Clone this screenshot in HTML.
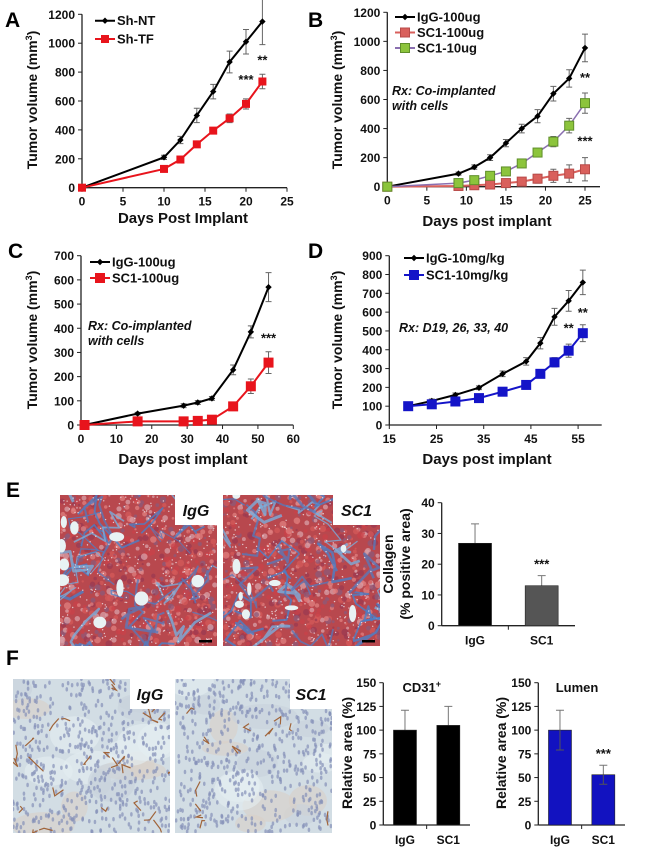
<!DOCTYPE html>
<html><head><meta charset="utf-8">
<style>
html,body{margin:0;padding:0;background:#fff;}
svg{display:block;font-family:"Liberation Sans",Arial,sans-serif;}
.t{font-weight:bold;font-size:12px;fill:#111;}
.at{font-weight:bold;font-size:14px;fill:#111;}
.pl{font-weight:bold;font-size:21px;fill:#000;}
.lg{font-weight:bold;font-size:13px;fill:#111;}
.rx{font-weight:bold;font-style:italic;font-size:12.5px;fill:#111;}
</style></head>
<body>
<svg id="fig" width="650" height="850" viewBox="0 0 650 850">
<defs>
<clipPath id="ce1"><rect x="60" y="495" width="157" height="151"/></clipPath>
<clipPath id="ce2"><rect x="223" y="495" width="157" height="151"/></clipPath>
<clipPath id="cf1"><rect x="13" y="679" width="157" height="154"/></clipPath>
<clipPath id="cf2"><rect x="175" y="679" width="157" height="154"/></clipPath>
</defs>
<text class="pl" x="5" y="27">A</text>
<text class="pl" x="308" y="27">B</text>
<text class="pl" x="8" y="258">C</text>
<text class="pl" x="308" y="258">D</text>
<text class="pl" x="6" y="497">E</text>
<text class="pl" x="6" y="665">F</text>
<g id="photos"></g>
<g id="charts"></g>
</svg>
<script>
// ---------- Panel A data ----------
const aDays=[0,10,12,14,16,18,20,22];
const aNT=[0,210,330,500,665,870,1010,1150];
const aNTerr=[0,15,25,50,50,75,85,160];
const aTF=[0,130,195,300,395,480,580,735];
const aTFerr=[0,10,10,15,20,30,35,50];
const aXTicks=[0,5,10,15,20,25];
const aYTicks=[0,200,400,600,800,1000,1200];
// ---------- Panel B data ----------
const bDays=[0,9,11,13,15,17,19,21,23,25];
const bIgG=[0,90,135,200,300,400,485,640,745,955];
const bIgGerr=[0,10,15,20,25,30,45,50,60,95];
const bSC100=[0,5,10,15,25,35,55,75,90,120];
const bSC100err=[0,5,5,8,10,20,30,45,60,80];
const bSC10=[0,25,45,75,105,160,235,310,420,575];
const bSC10err=[0,5,10,10,12,15,20,35,50,70];
const bXTicks=[0,5,10,15,20,25];
const bYTicks=[0,200,400,600,800,1000,1200];
// ---------- Panel C data ----------
const cDays=[1,16,29,33,37,43,48,53];
const cIgG=[0,47,80,93,110,228,385,570];
const cIgGerr=[0,5,8,8,8,20,25,60];
const cSC1=[0,15,15,17,22,77,160,258];
const cSC1err=[0,5,5,5,5,10,30,45];
const cXTicks=[0,10,20,30,40,50,60];
const cYTicks=[0,100,200,300,400,500,600,700];
// ---------- Panel D data ----------
const dDays=[19,24,29,34,39,44,47,50,53,56];
const dIgG=[100,128,160,198,272,338,435,575,660,758];
const dIgGerr=[0,10,10,10,15,20,30,45,55,65];
const dSC1=[100,110,125,143,177,213,272,333,395,488];
const dSC1err=[0,5,8,8,8,10,20,25,35,45];
const dXTicks=[15,25,35,45,55];
const dYTicks=[0,100,200,300,400,500,600,700,800,900];
// ---------- Bar data ----------
const barCats=['IgG','SC1'];
const eVals=[26.8,13];
const eErr=[6.3,3.3];
const eYTicks=[0,10,20,30,40];
const fCdVals=[100,105];
const fCdErr=[21,20];
const fLuVals=[100,53];
const fLuErr=[21,10];
const fYTicks=[0,25,50,75,100,125,150];

const NS='http://www.w3.org/2000/svg';
const root=document.getElementById('charts');
function mk(tag,attrs,parent){const e=document.createElementNS(NS,tag);for(const k in attrs)e.setAttribute(k,attrs[k]);(parent||root).appendChild(e);return e;}
function txt(s,x,y,cls,anchor,parent){const e=mk('text',{x:x,y:y,class:cls,'text-anchor':anchor||'start'},parent);e.textContent=s;return e;}

function axes(g,c){
  const sx=v=>c.x0+(v-c.xmin)/(c.xmax-c.xmin)*(c.x1-c.x0);
  const sy=v=>c.y0-(v-c.ymin)/(c.ymax-c.ymin)*(c.y0-c.y1);
  const ax=mk('line',{x1:c.x0,y1:c.y0,x2:c.x0,y2:c.y1,stroke:'#222','stroke-width':1.3},g);
  
  
  const bx=mk('line',{x1:c.x0,y1:c.y0,x2:c.x1,y2:c.y0,stroke:'#222','stroke-width':1.3},g);
  
  
  c.yt.forEach(v=>{mk('line',{x1:c.x0-4,x2:c.x0,y1:sy(v),y2:sy(v),stroke:'#222'},g);
    const t=txt(String(v),c.x0-7,sy(v)+4.5,'t','end',g);
    
    });
  if(c.xt){c.xt.forEach(v=>{mk('line',{x1:sx(v),x2:sx(v),y1:c.y0,y2:c.y0+4,stroke:'#222'},g);
    const t=txt(String(v),sx(v),c.y0+18,'t','middle',g);
    
    });}
  return {sx,sy};
}
function series(g,s,xs,ys,er,o){
  const pts=xs.map((x,i)=>[s.sx(x),s.sy(ys[i])]);
  er.forEach((e,i)=>{if(!e)return;const x=pts[i][0];
    const l=mk('path',{d:`M${x},${s.sy(ys[i]-e)}V${s.sy(ys[i]+e)}M${x-3},${s.sy(ys[i]+e)}h6M${x-3},${s.sy(ys[i]-e)}h6`,stroke:'#666','stroke-width':1,fill:'none'},g);
    
    });
  const ln=mk('polyline',{points:pts.map(p=>p.join(',')).join(' '),fill:'none',stroke:o.line,'stroke-width':o.w||2},g);
  
  
  pts.forEach(p=>{const m=marker(g,p[0],p[1],o);
    
    });
}
function marker(g,x,y,o){
  if(o.m==='d'){const r=3.2;return mk('path',{d:`M${x},${y-r}L${x+r},${y}L${x},${y+r}L${x-r},${y}Z`,fill:o.fill},g);}
  const r=o.ms/2;return mk('rect',{x:x-r,y:y-r,width:o.ms,height:o.ms,fill:o.fill,stroke:o.stroke||o.fill,'stroke-width':1},g);
}
function legend(g,x,y,label,o){
  const l=mk('line',{x1:x,x2:x+20,y1:y,y2:y,stroke:o.line,'stroke-width':2},g);
  
  
  marker(g,x+10,y,o);
  const t=txt(label,x+22,y+4.5,'lg','start',g);
  
  
}
function ytitle(g,x,y,lines,size){
  const t=mk('text',{transform:`translate(${x},${y}) rotate(-90)`,'text-anchor':'middle',class:'at'},g);
  if(size)t.style.fontSize=size+'px';
  t.innerHTML=lines;
  
  
  return t;
}
function xtitle(g,x,y,s){const t=txt(s,x,y,'at','middle',g);t.style.fontSize='15px';
  
  }
function star(g,x,y,s){const t=txt(s,x,y,'lg','middle',g);
  
  }

const blk={m:'d',fill:'#000',line:'#000',name:'igg'};
// ----- A -----
(function(){
  const g=mk('g',{});
  const s=axes(g,{x0:82,x1:287,xmin:0,xmax:25,y0:187.7,y1:14.3,ymin:0,ymax:1200,xt:aXTicks,yt:aYTicks});
  const nt=Object.assign({},blk,{name:'sh-nt'});
  const tf={m:'s',ms:7,fill:'#e8141c',line:'#e8141c',name:'sh-tf'};
  series(g,s,aDays,aNT,aNTerr,nt);series(g,s,aDays,aTF,aTFerr,tf);
  legend(g,95,20.7,'Sh-NT',nt);legend(g,95,39,'Sh-TF',tf);
  star(g,s.sx(20),s.sy(580)-20,'***');star(g,s.sx(22),s.sy(735)-17,'**');
  ytitle(g,37,100,'Tumor volume (mm<tspan dy="-5" font-size="9">3</tspan><tspan dy="5">)</tspan>');
  xtitle(g,183,223,'Days Post Implant');
})();
// ----- B -----
(function(){
  const g=mk('g',{});
  const s=axes(g,{x0:387.3,x1:600,xmin:0,xmax:25*(600-387.3)/(585-387.3),y0:186.7,y1:12.3,ymin:0,ymax:1200,xt:bXTicks,yt:bYTicks});
  const ig=Object.assign({},blk,{name:'igg-100ug'});
  const r={m:'s',ms:9,fill:'#d9605c',stroke:'#b84a48',line:'#d9605c',name:'sc1-100ug'};
  const gr={m:'s',ms:9,fill:'#8cc43c',stroke:'#5f8f2a',line:'#8a6fb0',name:'sc1-10ug',w:1.5};
  series(g,s,bDays,bIgG,bIgGerr,ig);series(g,s,bDays,bSC100,bSC100err,r);series(g,s,bDays,bSC10,bSC10err,gr);
  legend(g,395,17,'IgG-100ug',ig);legend(g,395,32.5,'SC1-100ug',r);legend(g,395,48,'SC1-10ug',gr);
  const r1=txt('Rx: Co-implanted',392,95,'rx','start',g);
  txt('with cells',392,110,'rx','start',g);
  star(g,s.sx(25),s.sy(575)-21,'**');star(g,s.sx(25),s.sy(120)-24,'***');
  ytitle(g,342,100,'Tumor volume (mm<tspan dy="-5" font-size="9">3</tspan><tspan dy="5">)</tspan>');
  xtitle(g,487,226,'Days post implant');
})();
// ----- C -----
(function(){
  const g=mk('g',{});
  const s=axes(g,{x0:81,x1:293.3,xmin:0,xmax:60,y0:425,y1:255.7,ymin:0,ymax:700,xt:cXTicks,yt:cYTicks});
  const ig=Object.assign({},blk,{name:'igg-100ug'});
  const r={m:'s',ms:9,fill:'#e8141c',line:'#e8141c',name:'sc1-100ug'};
  series(g,s,cDays,cIgG,cIgGerr,ig);series(g,s,cDays,cSC1,cSC1err,r);
  legend(g,90,262,'IgG-100ug',ig);legend(g,90,278,'SC1-100ug',r);
  txt('Rx: Co-implanted',88,330,'rx','start',g);txt('with cells',88,345,'rx','start',g);
  star(g,s.sx(53),s.sy(258)-20,'***');
  ytitle(g,37,340,'Tumor volume (mm<tspan dy="-5" font-size="9">3</tspan><tspan dy="5">)</tspan>');
  xtitle(g,183,464,'Days post implant');
})();
// ----- D -----
(function(){
  const g=mk('g',{});
  const s=axes(g,{x0:389.3,x1:601.7,xmin:15,xmax:60,y0:425,y1:255.7,ymin:0,ymax:900,xt:dXTicks,yt:dYTicks});
  const ig=Object.assign({},blk,{name:'igg-10mgkg'});
  const b={m:'s',ms:9,fill:'#1414c8',line:'#1414c8',name:'sc1-10mgkg'};
  series(g,s,dDays,dIgG,dIgGerr,ig);series(g,s,dDays,dSC1,dSC1err,b);
  legend(g,404,258,'IgG-10mg/kg',ig);legend(g,404,275,'SC1-10mg/kg',b);
  txt('Rx: D19, 26, 33, 40',399,332,'rx','start',g);
  star(g,s.sx(53),s.sy(395)-18,'**');star(g,s.sx(56),s.sy(488)-16,'**');
  ytitle(g,342,340,'Tumor volume (mm<tspan dy="-5" font-size="9">3</tspan><tspan dy="5">)</tspan>');
  xtitle(g,487,464,'Days post implant');
})();
// ----- Bars -----
function bars(name,c,vals,err,cols,title){
  const g=mk('g',{});
  const s=axes(g,{x0:c.x0,x1:c.x1,xmin:0,xmax:1,y0:c.y0,y1:c.y1,ymin:0,ymax:c.ymax,yt:c.yt});
  const slot=(c.x1-c.x0)/vals.length;
  mk('line',{x1:c.x0+slot,x2:c.x0+slot,y1:c.y0,y2:c.y0+4,stroke:'#222'},g);
  vals.forEach((v,i)=>{
    const cx=c.x0+slot*(i+0.5);
    const e=err[i];
    const eb=mk('path',{d:`M${cx},${s.sy(v+e)}V${s.sy(v)}M${cx-4},${s.sy(v+e)}h8`,stroke:'#777','stroke-width':1,fill:'none'},g);
    
    
    const r=mk('rect',{x:cx-c.bw/2,y:s.sy(v),width:c.bw,height:c.y0-s.sy(v),fill:cols[i],stroke:'#222','stroke-width':0.6},g);
    
    
    if(c.low){mk('path',{d:`M${cx},${s.sy(v)}V${s.sy(v-e)}M${cx-4},${s.sy(v-e)}h8`,stroke:'#555','stroke-width':1},g);}
    const t=txt(barCats[i],cx,c.y0+(c.lblOff||19),'t','middle',g);
    
    
    if(c.star&&c.star[i]){star(g,cx,s.sy(v+e)-7,c.star[i]);}
  });
  if(title){const t=txt(title[0],title[1],title[2],'lg','middle',g);t.innerHTML=title[0];
    }
  return g;
}
(function(){
  const g=bars('collagen-bar-chart',{x0:441.7,x1:575,y0:625.7,y1:502.7,ymax:40,yt:eYTicks,bw:33,star:[null,'***']},eVals,eErr,['#000','#555']);
  ytitle(g,393,564,'Collagen',14);
  ytitle(g,410,564,'(% positive area)',14);
  const cd=bars('cd31-bar-chart',{x0:383.3,x1:470,y0:825,y1:682.7,ymax:150,yt:fYTicks,bw:23},fCdVals,fCdErr,['#000','#000'],['CD31<tspan dy="-5" font-size="9">+</tspan>',421.7,692]);
  ytitle(cd,352,753,'Relative area (%)',14);
  const lu=bars('lumen-bar-chart',{x0:538.3,x1:625,y0:825,y1:682.7,ymax:150,yt:fYTicks,bw:23,low:true,star:[null,'***']},fLuVals,fLuErr,['#1212c0','#1212c0'],['Lumen',577,692]);
  ytitle(lu,506,753,'Relative area (%)',14);
})();

// ----- decorative photomicrographs -----
(function(){
  const P=document.getElementById('photos');
  let seed=7;const rnd=()=>{seed=(seed*16807)%2147483647;return seed/2147483647;};
  function photo(name,x,y,w,h,clip,type,label,lx,lw){
    const g=mk('g',{'clip-path':'url(#'+clip+')'},P);
    
    
    if(type==='e'){
      mk('rect',{x:x,y:y,width:w,height:h,fill:'#b8484e'},g);
      for(let i=0;i<700;i++){mk('circle',{cx:x+rnd()*w,cy:y+rnd()*h,r:1+rnd()*2.5,fill:['#c9424a','#9b3a52','#d45a5a','#8c5a7a','#e08080','#d8a0a8'][i%6],opacity:0.75},g);}
      for(let i=0;i<30;i++){let px=x+rnd()*w,py=y+rnd()*h,d=`M${px},${py}`;
        for(let k=0;k<6;k++){px+=(rnd()-0.5)*40;py+=(rnd()-0.5)*40;d+=`L${px},${py}`;}
        mk('path',{d:d,stroke:['#4a7fc8','#7aaedc','#5a78b8'][i%3],'stroke-width':1+rnd()*2,fill:'none',opacity:0.8,'stroke-linejoin':'round'},g);}
      for(let i=0;i<300;i++){mk('circle',{cx:x+rnd()*w,cy:y+rnd()*h,r:0.7,fill:'#f0e8ee',opacity:0.8},g);}
      for(let i=0;i<10;i++){mk('ellipse',{cx:x+rnd()*w,cy:y+rnd()*h,rx:2+rnd()*6,ry:2+rnd()*7,fill:'#e8f2f4'},g);}
      mk('rect',{x:x+w-18,y:y+h-6,width:13,height:2.5,fill:'#000'},g);
    }else{
      mk('rect',{x:x,y:y,width:w,height:h,fill:'#d2dde4'},g);
      for(let i=0;i<16;i++){mk('ellipse',{cx:x+rnd()*w,cy:y+rnd()*h,rx:10+rnd()*25,ry:6+rnd()*15,fill:['#e4eef2','#d8d0c8','#c8d2dc'][i%3],opacity:0.6},g);}
      for(let i=0;i<550;i++){mk('ellipse',{cx:x+rnd()*w,cy:y+rnd()*h,rx:1.3,ry:2.2,fill:'#8590b8',opacity:0.7},g);}
      const n=type==='f1'?26:12;
      for(let i=0;i<n;i++){let px=x+rnd()*w,py=y+rnd()*h,d=`M${px},${py}`;
        for(let k=0;k<2;k++){px+=(rnd()-0.5)*18;py+=(rnd()-0.5)*18;d+=`L${px},${py}`;}
        mk('path',{d:d,stroke:'#a0643a','stroke-width':1.2,fill:'none'},g);}
    }
    const lb=mk('rect',{x:lx,y:y,width:lw,height:30,fill:'#fff'},P);
    
    
    const t=txt(label,lx+lw/2,y+21,'rx','middle',P);t.style.fontSize='16px';
    
    
  }
  photo('trichrome-igg-image',60,495,157,151,'ce1','e','IgG',175,42);
  photo('trichrome-sc1-image',223,495,157,151,'ce2','e','SC1',333,47);
  photo('cd31-igg-image',13,679,157,154,'cf1','f1','IgG',130,40);
  photo('cd31-sc1-image',175,679,157,154,'cf2','f2','SC1',290,42);
})();
</script>
</body></html>
